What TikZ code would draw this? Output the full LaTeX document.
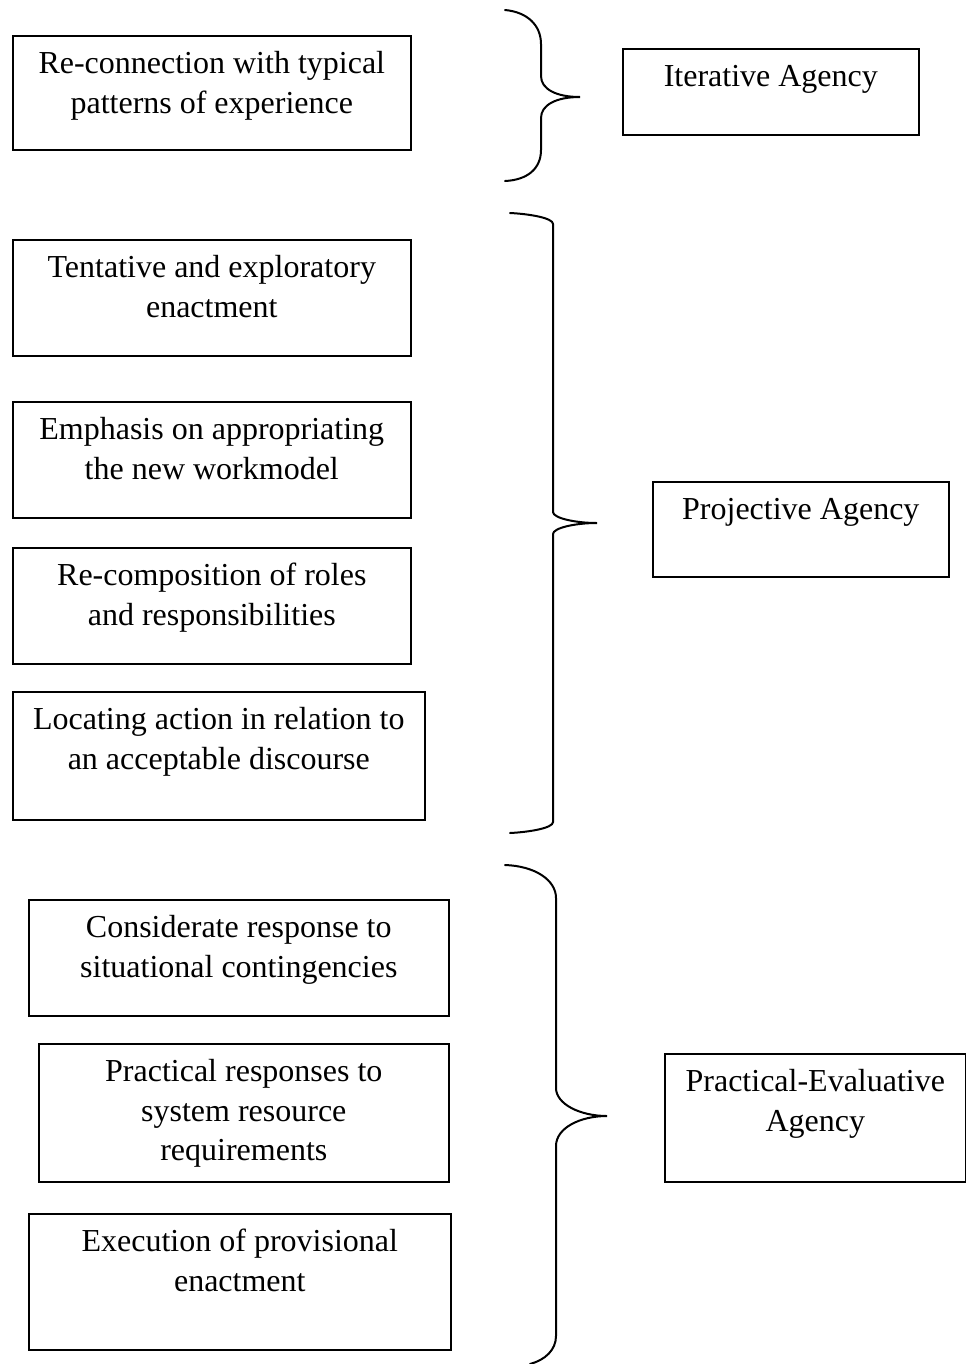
\documentclass[tikz,border=0pt]{standalone}
\usepackage{fontspec}
\setmainfont{Liberation Serif}
\tikzset{
  every picture/.style={line width=1.2pt},
  box/.style={draw, anchor=north west, align=center, inner xsep=0pt, inner ysep=0pt,
    minimum width=#1, font=\fontsize{24}{29.6}\selectfont},
  brc/.style={line width=1.5pt, line cap=round},
}

\begin{document}
\begin{tikzpicture}[x=0.75pt, y=-0.75pt]
  \useasboundingbox (0,0) rectangle (966,1364);
  % iterative group
  \node[box=298.5pt, text height=58.1pt, text depth=27.4pt] (recon) at (12,35) {Re-connection with typical\\patterns of experience};
  \node[box=222pt, text height=28.5pt, text depth=36pt] (iter) at (622,48) {Iterative Agency};
  \draw[brc] (505,10) .. controls (527,12) and (541,25) .. (541,44) -- (541,76)
    .. controls (541,89) and (556,97) .. (580,97) .. controls (556,97) and (541,105) .. (541,118)
    -- (541,150) .. controls (541,169) and (527,180) .. (505,181);
  % projective group
  \node[box=298.5pt, text height=58.1pt, text depth=28.9pt] (tent) at (12,239) {Tentative and exploratory\\enactment};
  \node[box=298.5pt, text height=58.1pt, text depth=28.9pt] (emph) at (12,401) {Emphasis on appropriating\\the new workmodel};
  \node[box=298.5pt, text height=58.1pt, text depth=28.9pt] (recomp) at (12,547) {Re-composition of roles\\and responsibilities};
  \node[box=309pt, text height=58.1pt, text depth=37.9pt] (locat) at (12,691) {Locating action in relation to\\an acceptable discourse};
  \node[box=222pt, text height=28.5pt, text depth=42.75pt] (proj) at (652,481) {Projective Agency};
  \draw[brc] (510,213) .. controls (530,214) and (553,218) .. (553,224) -- (553,512)
    .. controls (553,518) and (575,523) .. (597,523) .. controls (575,523) and (553,528) .. (553,534)
    -- (553,822) .. controls (553,828) and (530,832) .. (510,833);
  % practical-evaluative group
  \node[box=315pt, text height=58.1pt, text depth=28.9pt] (consid) at (28,899) {Considerate response to\\situational contingencies};
  \node[box=307.5pt, text height=87.7pt, text depth=15.8pt] (resp) at (38,1043) {Practical responses to\\system resource\\requirements};
  \node[box=316.5pt, text height=58.1pt, text depth=43.9pt] (exec) at (28,1213) {Execution of provisional\\enactment};
  \node[box=225.75pt, text height=58.1pt, text depth=37.9pt] (prac) at (664,1053) {Practical-Evaluative\\Agency};
  \draw[brc] (505,865) .. controls (535,866) and (556,880) .. (556,898) -- (556,1088)
    .. controls (556,1104) and (580,1116) .. (607,1116) .. controls (580,1116) and (556,1128) .. (556,1146)
    -- (556,1336) .. controls (556,1350) and (545,1360) .. (530,1364);
\end{tikzpicture}
\end{document}
